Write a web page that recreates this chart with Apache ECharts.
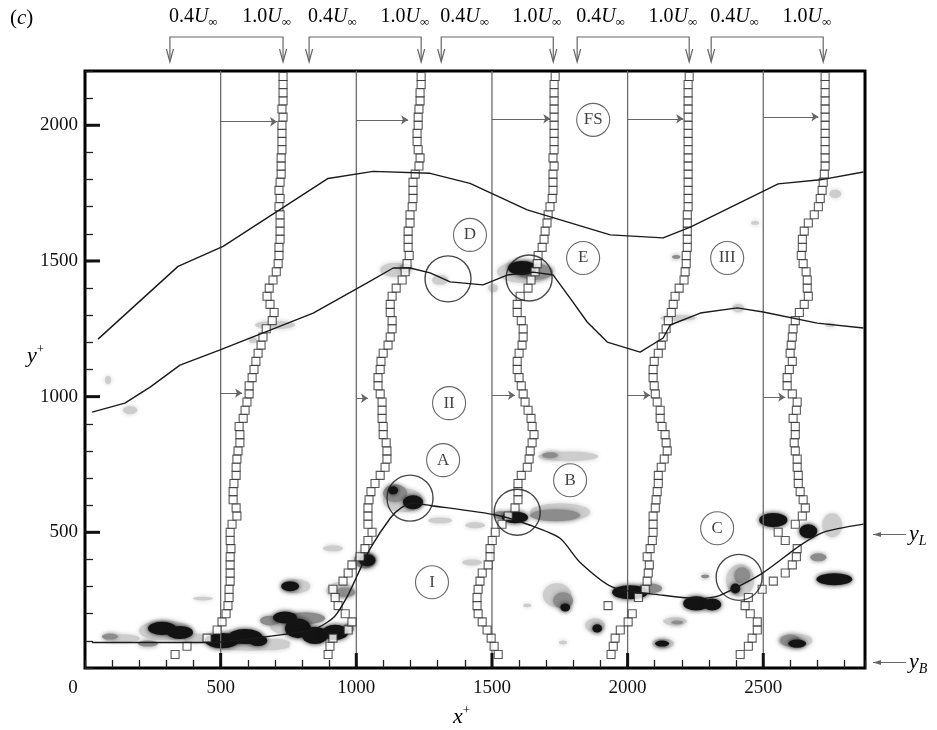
<!DOCTYPE html>
<html>
<head>
<meta charset="utf-8">
<script src="https://cdn.jsdelivr.net/npm/echarts@6/dist/echarts.min.js"></script>
<style>
  html, body { margin: 0; padding: 0; background: #fff; }
  #chart { width: 937px; height: 730px; }
</style>
</head>
<body>
<div id="chart"></div>
<script>
const SERIF = '"Liberation Serif","DejaVu Serif",serif';

// Measurement stations (x+) and the wall-normal positions of the profile points (y+)
const stations = [500, 1000, 1500, 2000, 2500];
const profileY = [50, 80, 110, 140, 170, 200, 230, 260, 290, 320, 350, 380, 410, 440, 470, 500, 530, 560,
  590, 620, 650, 680, 710, 740, 770, 800, 830, 860, 890, 920, 950, 980, 1010, 1040, 1070, 1100, 1130, 1160,
  1190, 1220, 1250, 1280, 1310, 1340, 1370, 1400, 1430, 1460, 1490, 1520, 1550, 1580, 1610, 1640, 1670,
  1700, 1730, 1760, 1790, 1820, 1850, 1880, 1910, 1940, 1970, 2000, 2030, 2060, 2090, 2120, 2150, 2180];

// Streamwise velocity profiles, plotted at their x+ position
const profile500 = [332, 376, 450, 487, 505, 520, 527, 531, 531, 535,
  535, 535, 535, 538, 535, 535, 542, 560, 557, 546,
  546, 549, 557, 557, 560, 564, 571, 571, 568, 583,
  590, 597, 605, 605, 616, 623, 630, 638, 649, 656,
  668, 690, 697, 682, 671, 679, 693, 705, 712, 715,
  715, 719, 719, 719, 719, 715, 719, 715, 719, 723,
  723, 723, 726, 726, 726, 726, 730, 726, 730, 730, 730, 730];
const profile1000 = [896, 903, 914, 970, 984, 959, 933, 922, 914, 951,
  970, 984, 1014, 1032, 1043, 1058, 1043, 1043, 1043, 1047,
  1054, 1069, 1088, 1106, 1113, 1113, 1110, 1099, 1099, 1095,
  1095, 1095, 1088, 1080, 1080, 1088, 1091, 1099, 1117, 1125,
  1132, 1132, 1125, 1125, 1132, 1147, 1169, 1180, 1187, 1195,
  1191, 1191, 1191, 1198, 1198, 1206, 1209, 1209, 1209, 1217,
  1231, 1235, 1228, 1224, 1224, 1228, 1228, 1231, 1235, 1235, 1239, 1239];
const profile1500 = [1523, 1508, 1497, 1482, 1464, 1449, 1445, 1445, 1449, 1456,
  1464, 1486, 1493, 1493, 1501, 1512, 1537, 1560, 1585, 1596,
  1596, 1596, 1608, 1630, 1637, 1641, 1648, 1655, 1648, 1644,
  1633, 1622, 1615, 1608, 1600, 1593, 1593, 1600, 1611, 1615,
  1615, 1608, 1593, 1593, 1604, 1633, 1644, 1659, 1667, 1670,
  1685, 1692, 1696, 1703, 1707, 1714, 1722, 1725, 1725, 1725,
  1729, 1725, 1729, 1729, 1729, 1729, 1729, 1729, 1729, 1729, 1729, 1733];
const profile2000 = [1939, 1947, 1954, 1973, 2002, 2017, 1928, 2040, 2065, 2072,
  2076, 2080, 2072, 2083, 2091, 2094, 2094, 2094, 2102, 2105,
  2109, 2113, 2113, 2124, 2135, 2146, 2142, 2138, 2127, 2120,
  2120, 2109, 2102, 2098, 2094, 2094, 2098, 2113, 2124, 2131,
  2142, 2150, 2161, 2168, 2175, 2190, 2208, 2212, 2216, 2216,
  2220, 2220, 2220, 2220, 2220, 2223, 2223, 2223, 2223, 2223,
  2223, 2223, 2223, 2223, 2223, 2223, 2223, 2223, 2223, 2223, 2223, 2227];
const profile2500 = [2415, 2445, 2459, 2478, 2478, 2452, 2433, 2445, 2496, 2537,
  2581, 2607, 2622, 2625, 2581, 2555, 2618, 2644, 2655, 2647,
  2636, 2629, 2629, 2625, 2625, 2618, 2614, 2618, 2618, 2610,
  2622, 2625, 2607, 2588, 2588, 2596, 2607, 2599, 2603, 2607,
  2610, 2618, 2633, 2651, 2666, 2662, 2662, 2658, 2647, 2640,
  2644, 2644, 2651, 2666, 2688, 2703, 2710, 2717, 2721, 2725,
  2728, 2728, 2728, 2728, 2728, 2728, 2728, 2728, 2728, 2728, 2728, 2728];
const profiles = [profile500, profile1000, profile1500, profile2000, profile2500];

// Reference arrows from each station line to its profile
const arrowUpperY = [2013, 2020, 2024, 2024, 2031];
const arrowUpperEnd = [708, 1191, 1715, 2205, 2703];
const arrowLowerY = [1013, 994, 1005, 1005, 998];
const arrowLowerEnd = [579, 1043, 1585, 2083, 2581];

// Velocity scale markers above the frame: x+ of 0.4 U and 1.0 U for each profile
const velocityRef = [[313, 730], [826, 1239], [1313, 1726], [1814, 2227], [2308, 2721]];
const velocityLabels = ['0.4', '1.0'];

// Interfaces (x+, y+)
const interfaceOuter = [[48, 1212], [343, 1480], [509, 1554], [896, 1804], [1062, 1830], [1272, 1823],
  [1419, 1786], [1630, 1688], [1936, 1596], [2131, 1585], [2231, 1625], [2555, 1784], [2710, 1799], [2869, 1828]];
const interfaceMiddle = [[26, 943], [147, 976], [240, 1035], [350, 1116], [498, 1172], [841, 1308], [1040, 1419],
  [1136, 1474], [1198, 1474], [1272, 1456], [1346, 1423], [1467, 1412], [1556, 1448], [1652, 1459], [1726, 1448],
  [1788, 1363], [1851, 1275], [1925, 1201], [2046, 1164], [2131, 1216], [2157, 1264], [2268, 1308], [2404, 1327],
  [2500, 1312], [2699, 1271], [2869, 1253]];
const interfaceInner = [[26, 94], [450, 94], [756, 127], [860, 150], [920, 190], [966, 262], [1003, 340],
  [1051, 440], [1125, 552], [1165, 590], [1209, 607], [1272, 599], [1519, 563], [1641, 526], [1751, 478],
  [1825, 389], [1947, 297], [2131, 268], [2268, 256], [2341, 268], [2496, 349], [2636, 452], [2721, 500], [2869, 530]];

// Contour patches: [x+, y+, half-width, half-height, level] (1 weak, 2 medium, 3 strong)
const patches = [
  [136, 109, 66, 15, 1], [92, 116, 30, 11, 2], [232, 90, 37, 11, 2], [295, 138, 96, 37, 1], [284, 146, 52, 24, 3],
  [350, 131, 48, 24, 3], [406, 109, 44, 18, 1], [608, 79, 147, 15, 1], [701, 90, 55, 18, 1], [505, 101, 63, 28, 3],
  [590, 116, 63, 28, 3], [638, 101, 34, 20, 3], [756, 157, 74, 37, 1], [811, 183, 74, 22, 2], [682, 175, 37, 18, 2],
  [737, 186, 44, 22, 3], [785, 146, 48, 36, 3], [848, 120, 48, 32, 3], [922, 131, 48, 28, 3], [970, 146, 22, 18, 2],
  [778, 301, 52, 26, 1], [756, 301, 33, 18, 3], [1032, 397, 41, 30, 2], [1040, 397, 30, 22, 3], [940, 286, 52, 30, 1],
  [959, 279, 37, 18, 2], [914, 441, 37, 11, 1], [435, 256, 37, 7, 1], [1172, 618, 74, 44, 1], [1143, 644, 44, 33, 2],
  [1136, 655, 18, 15, 3], [1209, 611, 37, 26, 3], [1751, 574, 111, 33, 1], [1733, 563, 92, 22, 2], [1530, 563, 26, 15, 2],
  [1585, 555, 48, 22, 3], [1781, 780, 111, 18, 1], [1714, 784, 30, 11, 2], [1309, 544, 44, 11, 1], [1438, 526, 37, 11, 1],
  [1427, 389, 37, 11, 1], [1740, 268, 52, 44, 1], [1762, 249, 37, 30, 2], [1770, 223, 18, 15, 3], [2083, 293, 44, 18, 2],
  [2009, 279, 66, 26, 3], [2253, 238, 48, 26, 3], [2312, 234, 33, 22, 3], [1880, 157, 37, 26, 1], [1888, 146, 18, 15, 3],
  [2131, 90, 41, 18, 1], [2127, 90, 26, 11, 3], [2175, 172, 44, 15, 1], [2183, 168, 22, 7, 2], [1762, 94, 15, 7, 1],
  [1630, 231, 15, 7, 1], [2537, 545, 52, 26, 3], [2666, 504, 33, 26, 3], [2754, 526, 37, 44, 1], [2762, 327, 66, 22, 3],
  [2703, 408, 30, 15, 2], [2415, 323, 52, 59, 1], [2422, 341, 30, 30, 2], [2397, 293, 18, 18, 3], [2618, 101, 63, 26, 1],
  [2599, 101, 37, 22, 2], [2625, 90, 33, 15, 3], [2286, 338, 15, 7, 2], [1622, 1460, 103, 41, 1], [1659, 1460, 66, 30, 2],
  [1611, 1474, 52, 26, 3], [1309, 1430, 30, 18, 1], [1504, 1400, 18, 15, 1], [1143, 1467, 55, 26, 1], [1180, 1474, 22, 15, 2],
  [2179, 1515, 15, 7, 2], [2186, 1290, 66, 11, 1], [701, 1264, 74, 15, 1], [619, 1209, 15, 11, 1], [166, 950, 26, 15, 1],
  [85, 1061, 11, 15, 1], [2765, 1747, 22, 15, 1], [2470, 1640, 15, 7, 1], [2408, 1326, 22, 15, 1], [2747, 1264, 18, 7, 1]
];

// Highlighted events (large circles)
const eventX = [1198, 1338, 1637, 1593, 2411];
const eventY = [626, 1434, 1437, 574, 334];

// Region labels
const regionNames = ['FS', 'D', 'E', 'III', 'II', 'A', 'B', 'I', 'C'];
const regionX = [1873, 1419, 1836, 2367, 1342, 1320, 1788, 1279, 2330];
const regionY = [2020, 1596, 1511, 1511, 976, 766, 692, 316, 515];

// Axis ticks
const xMajorTicks = [500, 1000, 1500, 2000, 2500];
const yMajorTicks = [500, 1000, 1500, 2000];

// Edge markers on the right-hand side
const edgeNames = ['L', 'B'];
const edgeY = [492, 20];

const shade = { 1: '#cdcdcd', 2: '#8c8c8c', 3: '#131313' };

const chart = echarts.init(document.getElementById('chart'), null, { renderer: 'canvas' });

const profileSeries = profiles.map(p => ({
  type: 'scatter',
  data: p.map((x, i) => [x, profileY[i]]),
  symbol: 'rect',
  symbolSize: 8,
  itemStyle: { color: '#ffffff', borderColor: '#2e2e2e', borderWidth: 1.1 },
  z: 4,
  silent: true
}));

const interfaceSeries = [interfaceOuter, interfaceMiddle, interfaceInner].map((d, i) => ({
  type: 'line',
  data: d,
  symbol: 'none',
  smooth: i === 2 ? 0.25 : false,
  lineStyle: { color: '#1a1a1a', width: 1.4 },
  z: 5,
  silent: true
}));

const arrowData = [];
stations.forEach((s, i) => {
  arrowData.push({ coords: [[s, arrowUpperY[i]], [arrowUpperEnd[i], arrowUpperY[i]]] });
  arrowData.push({ coords: [[s, arrowLowerY[i]], [arrowLowerEnd[i], arrowLowerY[i]]] });
});

const option = {
  animation: false,
  backgroundColor: '#ffffff',
  grid: { left: 85, right: 72, top: 71, bottom: 62, show: true, borderColor: '#000', borderWidth: 3, backgroundColor: 'transparent' },
  xAxis: {
    type: 'value', min: 0, max: 2875, interval: 100,
    axisLine: { show: false },
    splitLine: { show: false },
    axisTick: { inside: true, length: 8, lineStyle: { color: '#222', width: 1.3 } },
    axisLabel: {
      margin: 11, color: '#111', fontFamily: SERIF, fontSize: 19,
      formatter: v => v === 0 ? '{o|0}' : (v % 500 === 0 ? String(v) : ''),
      rich: { o: { fontFamily: SERIF, fontSize: 19, color: '#111', padding: [0, 24, 0, 0] } }
    }
  },
  yAxis: {
    type: 'value', min: 0, max: 2200, interval: 100,
    axisLine: { show: false },
    splitLine: { show: false },
    axisTick: { inside: true, length: 8, lineStyle: { color: '#222', width: 1.3 } },
    axisLabel: {
      margin: 7, color: '#111', fontFamily: SERIF, fontSize: 19,
      formatter: v => (v !== 0 && v % 500 === 0) ? String(v) : ''
    }
  },
  series: [
    {
      type: 'custom',
      data: patches.slice().sort((a, b) => a[4] - b[4]),
      z: 1,
      silent: true,
      renderItem(params, api) {
        const c = api.coord([api.value(0), api.value(1)]);
        const s = api.size([api.value(2), api.value(3)]);
        const col = shade[api.value(4)];
        return {
          type: 'circle', x: c[0], y: c[1], scaleX: s[0] / s[1],
          shape: { cx: 0, cy: 0, r: s[1] },
          style: { fill: col, shadowBlur: 5, shadowColor: col }
        };
      }
    },
    {
      type: 'custom',
      data: stations.map(s => [s, 0]),
      z: 2,
      silent: true,
      renderItem(params, api) {
        const a = api.coord([api.value(0), 0]);
        const b = api.coord([api.value(0), 2200]);
        return { type: 'line', shape: { x1: a[0], y1: a[1], x2: b[0], y2: b[1] }, style: { stroke: '#6c6c6c', lineWidth: 1.3 } };
      }
    },
    {
      type: 'lines',
      coordinateSystem: 'cartesian2d',
      data: arrowData,
      symbol: ['none', 'arrow'],
      symbolSize: [0, 7],
      lineStyle: { color: '#666', width: 1.1, opacity: 1 },
      z: 3,
      silent: true
    },
    ...profileSeries,
    ...interfaceSeries,
    {
      type: 'scatter',
      data: eventX.map((x, i) => [x, eventY[i]]),
      symbol: 'circle',
      symbolSize: 46,
      itemStyle: { color: 'rgba(0,0,0,0)', borderColor: '#1a1a1a', borderWidth: 1.4 },
      z: 6,
      silent: true
    },
    {
      type: 'scatter',
      data: regionNames.map((n, i) => ({ name: n, value: [regionX[i], regionY[i]] })),
      symbol: 'circle',
      symbolSize: 33,
      itemStyle: { color: 'rgba(255,255,255,0)', borderColor: '#444', borderWidth: 1.1 },
      label: { show: true, position: 'inside', formatter: p => p.name, fontFamily: SERIF, fontSize: 17, color: '#111' },
      z: 6,
      silent: true
    },
    {
      type: 'custom',
      data: xMajorTicks.map(v => [v, 0]),
      z: 7,
      silent: true,
      clip: false,
      renderItem(params, api) {
        const a = api.coord([api.value(0), 0]);
        return { type: 'line', shape: { x1: a[0], y1: a[1], x2: a[0], y2: a[1] - 15 }, style: { stroke: '#111', lineWidth: 3 } };
      }
    },
    {
      type: 'custom',
      data: yMajorTicks.map(v => [0, v]),
      z: 7,
      silent: true,
      clip: false,
      renderItem(params, api) {
        const a = api.coord([0, api.value(1)]);
        return { type: 'line', shape: { x1: a[0], y1: a[1], x2: a[0] + 15, y2: a[1] }, style: { stroke: '#111', lineWidth: 3 } };
      }
    }
  ]
};

chart.setOption(option);

// Annotations outside the frame, positioned from the axes
const gx = v => chart.convertToPixel({ xAxisIndex: 0 }, v);
const gy = v => chart.convertToPixel({ yAxisIndex: 0 }, v);
const graphics = [];
const richU = {
  n: { fontFamily: SERIF, fontSize: 20, color: '#111', lineHeight: 24 },
  u: { fontFamily: SERIF, fontSize: 20, fontStyle: 'italic', color: '#111', lineHeight: 24 },
  s: { fontFamily: SERIF, fontSize: 13, color: '#111', lineHeight: 10, verticalAlign: 'bottom' }
};
const bracketTop = 37, bracketTip = 62;
velocityRef.forEach(pair => {
  const x0 = gx(pair[0]), x1 = gx(pair[1]);
  graphics.push({
    type: 'polyline', silent: true,
    shape: { points: [[x0, bracketTip - 1], [x0, bracketTop], [x1, bracketTop], [x1, bracketTip - 1]] },
    style: { stroke: '#666', lineWidth: 1.2, fill: null }
  });
  [x0, x1].forEach(x => graphics.push({
    type: 'polyline', silent: true,
    shape: { points: [[x - 3.5, bracketTip - 13], [x, bracketTip], [x + 3.5, bracketTip - 13]] },
    style: { stroke: '#666', lineWidth: 1.2, fill: null }
  }));
  graphics.push({
    type: 'text', silent: true, x: x0 - 1, y: 17,
    style: { text: '{n|' + velocityLabels[0] + '}{u|U}{s|∞}', rich: richU, align: 'left', verticalAlign: 'middle' }
  });
  graphics.push({
    type: 'text', silent: true, x: x1 + 8, y: 17,
    style: { text: '{n|' + velocityLabels[1] + '}{u|U}{s|∞}', rich: richU, align: 'right', verticalAlign: 'middle' }
  });
});

// Panel tag
graphics.push({
  type: 'text', silent: true, x: 10, y: 18,
  style: {
    text: '{a|(}{b|c}{a|)}', align: 'left', verticalAlign: 'middle',
    rich: {
      a: { fontFamily: SERIF, fontSize: 21, color: '#111' },
      b: { fontFamily: SERIF, fontSize: 21, fontStyle: 'italic', color: '#111' }
    }
  }
});

// Axis titles
const richSup = {
  i: { fontFamily: SERIF, fontSize: 22, fontStyle: 'italic', color: '#111', lineHeight: 26 },
  p: { fontFamily: SERIF, fontSize: 13, color: '#111', lineHeight: 13, verticalAlign: 'top' }
};
graphics.push({ type: 'text', silent: true, x: 27, y: 356, style: { text: '{i|y}{p|+}', rich: richSup, align: 'left', verticalAlign: 'middle' } });
graphics.push({ type: 'text', silent: true, x: 453, y: 717, style: { text: '{i|x}{p|+}', rich: richSup, align: 'left', verticalAlign: 'middle' } });

// Right-hand edge markers
const richSub = {
  i: { fontFamily: SERIF, fontSize: 22, fontStyle: 'italic', color: '#111', lineHeight: 28 },
  s: { fontFamily: SERIF, fontSize: 14, fontStyle: 'italic', color: '#111', lineHeight: 14, verticalAlign: 'bottom' }
};
edgeNames.forEach((n, i) => {
  const y = gy(edgeY[i]);
  graphics.push({ type: 'line', silent: true, shape: { x1: 873, y1: y, x2: 906, y2: y }, style: { stroke: '#666', lineWidth: 1.1 } });
  graphics.push({ type: 'polygon', silent: true, shape: { points: [[873, y], [881, y - 2.5], [881, y + 2.5]] }, style: { fill: '#666' } });
  graphics.push({ type: 'text', silent: true, x: 909, y: y, style: { text: '{i|y}{s|' + n + '}', rich: richSub, align: 'left', verticalAlign: 'middle' } });
});

chart.setOption({ graphic: graphics });
</script>
</body>
</html>
